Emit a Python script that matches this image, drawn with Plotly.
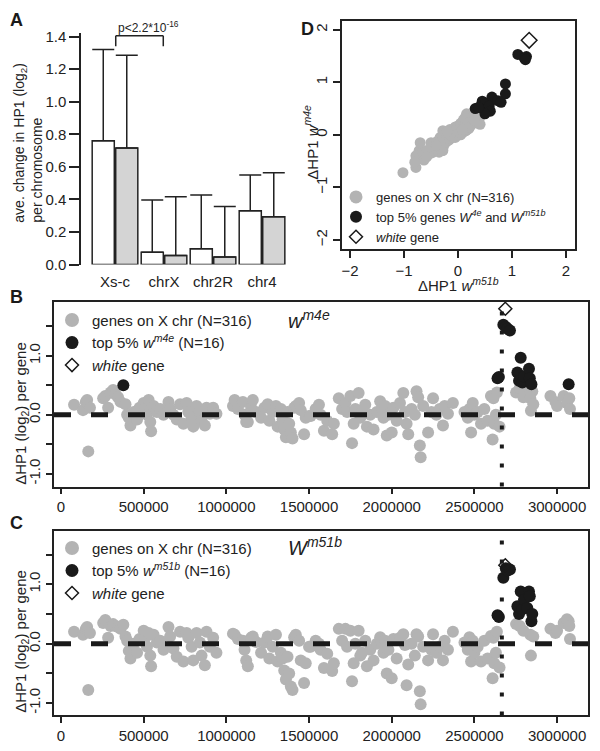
import plotly.graph_objects as go

# ---------------- panel A : mean change per chromosome ----------------
chromosomes = ["Xs-c", "chrX", "chr2R", "chr4"]
mean_m4e = [0.76, 0.076, 0.097, 0.33]
sd_m4e = [0.56, 0.32, 0.33, 0.22]
mean_m51b = [0.716, 0.056, 0.046, 0.294]
sd_m51b = [0.57, 0.36, 0.31, 0.27]

# ---------------- panels B-D : genes on the X chromosome ----------------
pos_kb = [
    79, 133, 150, 158, 165, 175, 255, 268, 285,
    300, 315, 330, 345, 360, 377, 390, 400, 410, 420, 440, 460, 475,
    500, 510, 520, 530, 540, 545, 560, 580, 600, 620, 650, 660, 680, 700,
    720, 740, 760, 770, 790, 800, 820, 840, 850, 870, 880, 900, 920, 940,
    1040, 1050, 1070, 1100, 1110, 1120, 1130, 1150, 1160, 1180, 1210, 1230, 1250, 1260, 1280, 1300, 1310, 1330, 1340, 1350,
    1360, 1370, 1380, 1390, 1400, 1410, 1420, 1440, 1450, 1470, 1480, 1500,
    1510, 1540, 1560, 1570, 1590, 1610, 1640, 1650, 1680, 1700,
    1720, 1730, 1750, 1760, 1770, 1780, 1800, 1810, 1820, 1840, 1850, 1870, 1890,
    1910, 1930, 1940, 1950, 1960, 1970, 1980, 2000, 2010, 2030, 2050, 2070, 2080, 2090,
    2100, 2120, 2140, 2150, 2160, 2170, 2175, 2190, 2220, 2240, 2250, 2270, 2290, 2310, 2320, 2340, 2370,
    2440, 2460, 2470, 2480, 2490, 2500, 2520, 2540, 2560, 2580, 2600, 2610, 2615, 2620, 2630, 2636, 2652,
    2640, 2648, 2675, 2690, 2700, 2715, 2760, 2770, 2780, 2790, 2800, 2820, 2830, 2835, 2845, 2850, 3070,
    2752, 2774, 2796, 2838, 2842, 2856, 2960, 2990, 3000, 3040, 3060, 3074, 3078,
]
hp1_m4e = [
    0.17, 0.08, 0.22, 0.25, -0.62, 0.12, 0.28, 0.32, 0.12,
    0.38, 0.42, 0.35, 0.30, 0.22, 0.50, 0.18, 0.00, -0.05, -0.18, 0.05, -0.08, 0.12,
    0.20, 0.12, 0.00, 0.25, -0.12, -0.28, 0.15, 0.05, 0.10, 0.00, 0.22, 0.10, 0.00, -0.08,
    0.18, -0.15, 0.20, 0.05, -0.05, -0.20, 0.15, 0.05, -0.10, -0.18, 0.12, 0.02, 0.12, 0.02,
    0.15, 0.25, 0.10, 0.22, 0.00, -0.12, -0.12, 0.12, 0.25, 0.05, -0.05, 0.12, 0.18, -0.10, 0.05, 0.15, -0.20, 0.10, -0.08, -0.25,
    -0.38, 0.05, -0.15, -0.30, -0.40, 0.12, 0.15, 0.20, 0.08, -0.33, -0.05, -0.02,
    -0.02, 0.10, 0.17, 0.00, -0.27, -0.10, -0.33, -0.15, 0.28, 0.10,
    0.20, 0.05, 0.32, -0.48, -0.15, 0.10, 0.37, -0.05, 0.05, 0.17, -0.20, 0.00, -0.25,
    0.05, 0.23, 0.10, -0.05, 0.15, -0.35, 0.00, -0.30, 0.12, -0.10, 0.20, 0.37, 0.05, -0.15,
    -0.33, 0.10, 0.00, 0.40, 0.30, -0.52, -0.72, 0.15, -0.30, 0.05, 0.28, 0.00, 0.10, -0.18, 0.15, 0.02, 0.20,
    0.05, -0.05, 0.10, -0.30, 0.20, 0.00, 0.05, -0.15, 0.10, -0.10, 0.32, -0.42, 0.28, -0.15, 0.00, 0.38, -0.20,
    0.62, 0.64, 1.53, 1.49, 1.46, 1.43, 0.72, 0.58, 0.97, 0.55, 0.65, 0.45, 0.78, 0.62, 0.52, 0.40, 0.52,
    0.38, 0.45, 0.30, 0.28, 0.07, 0.18, 0.32, 0.22, 0.15, 0.32, 0.20, 0.28, 0.10,
]
hp1_m51b = [
    0.20, 0.15, 0.25, 0.28, -0.78, 0.18, 0.35, 0.40, 0.10,
    0.30, 0.33, 0.30, 0.28, 0.25, 0.32, 0.12, 0.05, -0.12, -0.25, 0.00, -0.15, 0.08,
    0.22, 0.10, -0.05, 0.18, -0.20, -0.38, 0.15, 0.02, 0.05, -0.10, 0.28, 0.12, -0.08, -0.22,
    0.20, -0.30, 0.18, 0.10, -0.05, -0.28, 0.18, 0.02, -0.20, -0.36, 0.20, -0.05, 0.10, -0.15,
    0.17, 0.15, 0.08, 0.05, -0.10, -0.28, -0.38, 0.10, 0.12, 0.03, -0.15, 0.02, 0.12, -0.25, -0.05, 0.15, -0.30, -0.15, -0.25, -0.45,
    -0.60, -0.22, -0.50, -0.72, -0.78, 0.11, 0.15, 0.05, -0.28, -0.66, -0.33, -0.05,
    -0.05, 0.05, 0.00, -0.10, -0.41, -0.17, -0.46, -0.33, 0.25, 0.05,
    0.25, -0.05, 0.22, -0.63, -0.33, 0.00, 0.22, -0.20, -0.15, 0.05, -0.38, -0.10, -0.28,
    0.00, 0.11, 0.02, -0.15, 0.05, -0.50, -0.10, -0.58, 0.08, -0.25, 0.10, 0.16, -0.02, -0.70,
    -0.35, 0.00, -0.20, 0.16, 0.12, -0.80, -1.02, -0.05, -0.28, -0.10, 0.16, -0.15, -0.05, -0.28, 0.05, -0.10, 0.20,
    0.02, -0.10, 0.11, -0.30, 0.05, -0.15, -0.05, -0.30, 0.05, -0.25, 0.13, -0.58, 0.10, -0.33, -0.15, 0.20, -0.40,
    0.48, 0.45, 1.11, 1.27, 1.23, 1.25, 0.63, 0.50, 0.88, 0.58, 0.74, 0.60, 0.88, 0.80, 0.38, 0.50, 0.38,
    0.33, 0.30, 0.22, 0.15, -0.20, 0.12, 0.25, 0.18, 0.22, 0.35, 0.41, 0.30, 0.08,
]
top_m4e_kb = [377, 2640, 2648, 2675, 2690, 2700, 2715, 2760, 2770, 2780, 2790, 2800, 2830, 2835, 2845, 3070]
top_m51b_kb = [2640, 2648, 2675, 2690, 2700, 2715, 2760, 2770, 2780, 2790, 2800, 2820, 2830, 2835, 2845, 2850]

white_kb = 2687
white_m4e = 1.80
white_m51b = 1.32
boundary_kb = 2666

# the page body has an 8px margin, so the figure is a little smaller than the window
OFF = 8
W, H = 600 - OFF, 751 - OFF
GREY = "#b3b3b3"
BLACK = "#1a1a1a"
INK = "#222222"
FONT = "Liberation Sans, Arial, sans-serif"


def hx(p):
    return (p - OFF) / W


def vy(p):
    return 1 - (p - OFF) / H


fig = go.Figure()

# ---- A: bars
fig.add_trace(go.Bar(
    x=chromosomes, y=mean_m4e, xaxis="x", yaxis="y", showlegend=False,
    marker=dict(color="white", line=dict(color=INK, width=1.5)),
    error_y=dict(type="data", symmetric=False, array=sd_m4e, arrayminus=[0] * 4,
                 color=INK, thickness=1.5, width=11)))
fig.add_trace(go.Bar(
    x=chromosomes, y=mean_m51b, xaxis="x", yaxis="y", showlegend=False,
    marker=dict(color="#d4d4d4", line=dict(color=INK, width=1.5)),
    error_y=dict(type="data", symmetric=False, array=sd_m51b, arrayminus=[0] * 4,
                 color=INK, thickness=1.5, width=11)))


def legend_entries(legend, xa, ya, top_label, size, dsize):
    entries = [
        ("genes on X chr (N=316)", dict(color=GREY, size=size, symbol="circle")),
        (top_label, dict(color=BLACK, size=size - 1, symbol="circle")),
        ("<i>white</i> gene", dict(color=BLACK, size=dsize, symbol="diamond-open", line=dict(width=1.5))),
    ]
    for name, mk in entries:
        fig.add_trace(go.Scatter(x=[None], y=[None], mode="markers", marker=mk, name=name,
                                 legend=legend, xaxis=xa, yaxis=ya))


def track(values, white_val, top_kb, xa, ya):
    grey_x = [p * 1000 for p in pos_kb if p not in top_kb]
    grey_y = [v for p, v in zip(pos_kb, values) if p not in top_kb]
    blk_x = [p * 1000 for p in pos_kb if p in top_kb]
    blk_y = [v for p, v in zip(pos_kb, values) if p in top_kb]
    fig.add_trace(go.Scatter(x=grey_x, y=grey_y, mode="markers", xaxis=xa, yaxis=ya, showlegend=False,
                             marker=dict(color=GREY, size=12)))
    fig.add_trace(go.Scatter(x=blk_x, y=blk_y, mode="markers", xaxis=xa, yaxis=ya, showlegend=False,
                             marker=dict(color=BLACK, size=12)))
    fig.add_trace(go.Scatter(x=[white_kb * 1000], y=[white_val], mode="markers", xaxis=xa, yaxis=ya,
                             showlegend=False,
                             marker=dict(symbol="diamond-open", size=10, color=BLACK, line=dict(width=1.5))))


# ---- B and C
track(hp1_m4e, white_m4e, top_m4e_kb, "x3", "y3")
legend_entries("legend", "x3", "y3", "top 5% <i>w</i><sup><i>m4e</i></sup> (N=16)", 14, 10)
track(hp1_m51b, white_m51b, top_m51b_kb, "x4", "y4")
legend_entries("legend2", "x4", "y4", "top 5% <i>w</i><sup><i>m51b</i></sup> (N=16)", 14, 10)

# ---- D: scatter m51b vs m4e
top_any = set(top_m4e_kb) | set(top_m51b_kb)
fig.add_trace(go.Scatter(
    x=[b for p, b in zip(pos_kb, hp1_m51b) if p not in top_any],
    y=[a for p, a in zip(pos_kb, hp1_m4e) if p not in top_any],
    mode="markers", xaxis="x2", yaxis="y2", showlegend=False, marker=dict(color=GREY, size=11)))
fig.add_trace(go.Scatter(
    x=[b for p, b in zip(pos_kb, hp1_m51b) if p in top_any],
    y=[a for p, a in zip(pos_kb, hp1_m4e) if p in top_any],
    mode="markers", xaxis="x2", yaxis="y2", showlegend=False, marker=dict(color=BLACK, size=11)))
fig.add_trace(go.Scatter(
    x=[white_m51b], y=[white_m4e], mode="markers", xaxis="x2", yaxis="y2", showlegend=False,
    marker=dict(symbol="diamond-open", size=12, color=BLACK, line=dict(width=1.5))))
legend_entries("legend3", "x2", "y2",
               "top 5% genes <i>W</i><sup><i>4e</i></sup> and <i>W</i><sup><i>m51b</i></sup>", 13, 10)

tickfont = dict(family=FONT, size=15, color=INK)
box = dict(showline=True, linewidth=1.5, linecolor=INK, mirror=True, zeroline=False, showgrid=False,
           ticks="outside", ticklen=6, tickwidth=1.5, tickcolor=INK, tickfont=tickfont)
pos_ticks = [0, 500000, 1000000, 1500000, 2000000, 2500000, 3000000]
yvals = [-1, -0.5, 0, 0.5, 1, 1.5]
ytext = ["-1.0", "", "0.0", "", "1.0", ""]

fig.update_layout(
    width=W, height=H, margin=dict(l=0, r=0, t=0, b=0),
    paper_bgcolor="white", plot_bgcolor="white",
    font=dict(family=FONT, color=INK),
    barmode="group", bargap=0.04, bargroupgap=0.06,
    xaxis=dict(domain=[hx(81), hx(290)], type="category", range=[-0.694, 3.571],
               showline=False, showgrid=False, zeroline=False, ticks="", ticklabelstandoff=6,
               tickfont=tickfont, anchor="y"),
    yaxis=dict(domain=[vy(264), vy(28.7)], range=[0, 1.42], showline=True, linewidth=1.5, linecolor=INK,
               showgrid=False, zeroline=False, ticks="outside", ticklen=10, tickwidth=1.5, tickcolor=INK,
               tickvals=[0, 0.2, 0.4, 0.6, 0.8, 1.0, 1.2, 1.4], tickformat=".1f", tickfont=tickfont,
               anchor="x"),
    xaxis2=dict(box, domain=[hx(342), hx(575)], range=[-2.15, 2.17], tickvals=[-2, -1, 0, 1, 2],
                ticklen=7, anchor="y2"),
    yaxis2=dict(box, domain=[vy(248), vy(16)], range=[-2.17, 2.17], tickvals=[-2, -1, 0, 1, 2],
                ticklen=7, tickangle=-90, anchor="x2"),
    xaxis3=dict(box, domain=[hx(54), hx(588)], range=[-42300, 3187000], tickvals=pos_ticks,
                tickformat="d", anchor="y3"),
    yaxis3=dict(box, domain=[vy(490), vy(302)], range=[-1.217, 1.917], tickvals=yvals, ticktext=ytext,
                tickangle=-90, anchor="x3"),
    xaxis4=dict(box, domain=[hx(54), hx(588)], range=[-42300, 3187000], tickvals=pos_ticks,
                tickformat="d", anchor="y4"),
    yaxis4=dict(box, domain=[vy(723), vy(535)], range=[-1.207, 1.90], tickvals=yvals, ticktext=ytext,
                tickangle=-90, anchor="x4"),
    legend=dict(x=hx(52), y=vy(304), xanchor="left", yanchor="top", bgcolor="rgba(0,0,0,0)",
                font=dict(family=FONT, size=15, color=INK)),
    legend2=dict(x=hx(52), y=vy(536), xanchor="left", yanchor="top", bgcolor="rgba(0,0,0,0)",
                 font=dict(family=FONT, size=15, color=INK)),
    legend3=dict(x=hx(336), y=vy(180), xanchor="left", yanchor="top", bgcolor="rgba(0,0,0,0)",
                 font=dict(family=FONT, size=13, color=INK)),
)

shapes = []
for xa, ya in [("x3", "y3"), ("x4", "y4")]:
    shapes.append(dict(type="line", xref=xa + " domain", x0=0, x1=1, yref=ya, y0=0, y1=0,
                       line=dict(color=BLACK, width=5, dash="17px,20px")))
    shapes.append(dict(type="line", xref=xa, x0=boundary_kb * 1000, x1=boundary_kb * 1000,
                       yref=ya + " domain", y0=0, y1=1,
                       line=dict(color=BLACK, width=4, dash="4px,15px")))
# significance bracket in A
for x0, y0, x1, y1 in [(0.015, 1.34, 0.015, 1.405), (0.015, 1.405, 0.985, 1.405), (0.985, 1.405, 0.985, 1.34)]:
    shapes.append(dict(type="line", xref="x", yref="y", x0=x0, y0=y0, x1=x1, y1=y1,
                       line=dict(color=INK, width=1.5)))
fig.update_layout(shapes=shapes)

ann = [
    dict(text="<b>A</b>", x=0, y=vy(15), xanchor="left", font=dict(size=18, color=BLACK)),
    dict(text="<b>B</b>", x=0, y=vy(297), xanchor="left", font=dict(size=18, color=BLACK)),
    dict(text="<b>C</b>", x=0, y=vy(527), xanchor="left", font=dict(size=18, color=BLACK)),
    dict(text="<b>D</b>", x=hx(307), y=vy(24), font=dict(size=18, color=BLACK)),
    dict(text="p<2.2*10<sup>-16</sup>", x=hx(148), y=vy(22), font=dict(size=12)),
    dict(text="ave. change in HP1 (log<sub>2</sub>)<br>per chromosome", x=hx(28), y=vy(140),
         textangle=-90, align="left", font=dict(size=14)),
    dict(text="ΔHP1 (log<sub>2</sub>) per gene", x=hx(22), y=vy(416), textangle=-90, font=dict(size=15)),
    dict(text="ΔHP1 (log<sub>2</sub>) per gene", x=hx(22), y=vy(648), textangle=-90, font=dict(size=15)),
    dict(text="ΔHP1 <i>w</i><sup><i>m51b</i></sup>", x=hx(458), y=vy(284), font=dict(size=15)),
    dict(text="ΔHP1 <i>w</i><sup><i>m4e</i></sup>", x=hx(311), y=vy(140), textangle=-90, font=dict(size=15)),
    dict(text="<i>w</i><sup><i>m4e</i></sup>", x=hx(286), y=vy(320), xanchor="left", font=dict(size=20)),
    dict(text="<i>W</i><sup><i>m51b</i></sup>", x=hx(286), y=vy(551), xanchor="left", font=dict(size=20)),
]
for a in ann:
    a.setdefault("xanchor", "center")
    a.update(xref="paper", yref="paper", yanchor="middle", showarrow=False)
    a["font"].setdefault("color", INK)
    a["font"]["family"] = FONT
fig.update_layout(annotations=ann)

fig.write_html("out.html")
